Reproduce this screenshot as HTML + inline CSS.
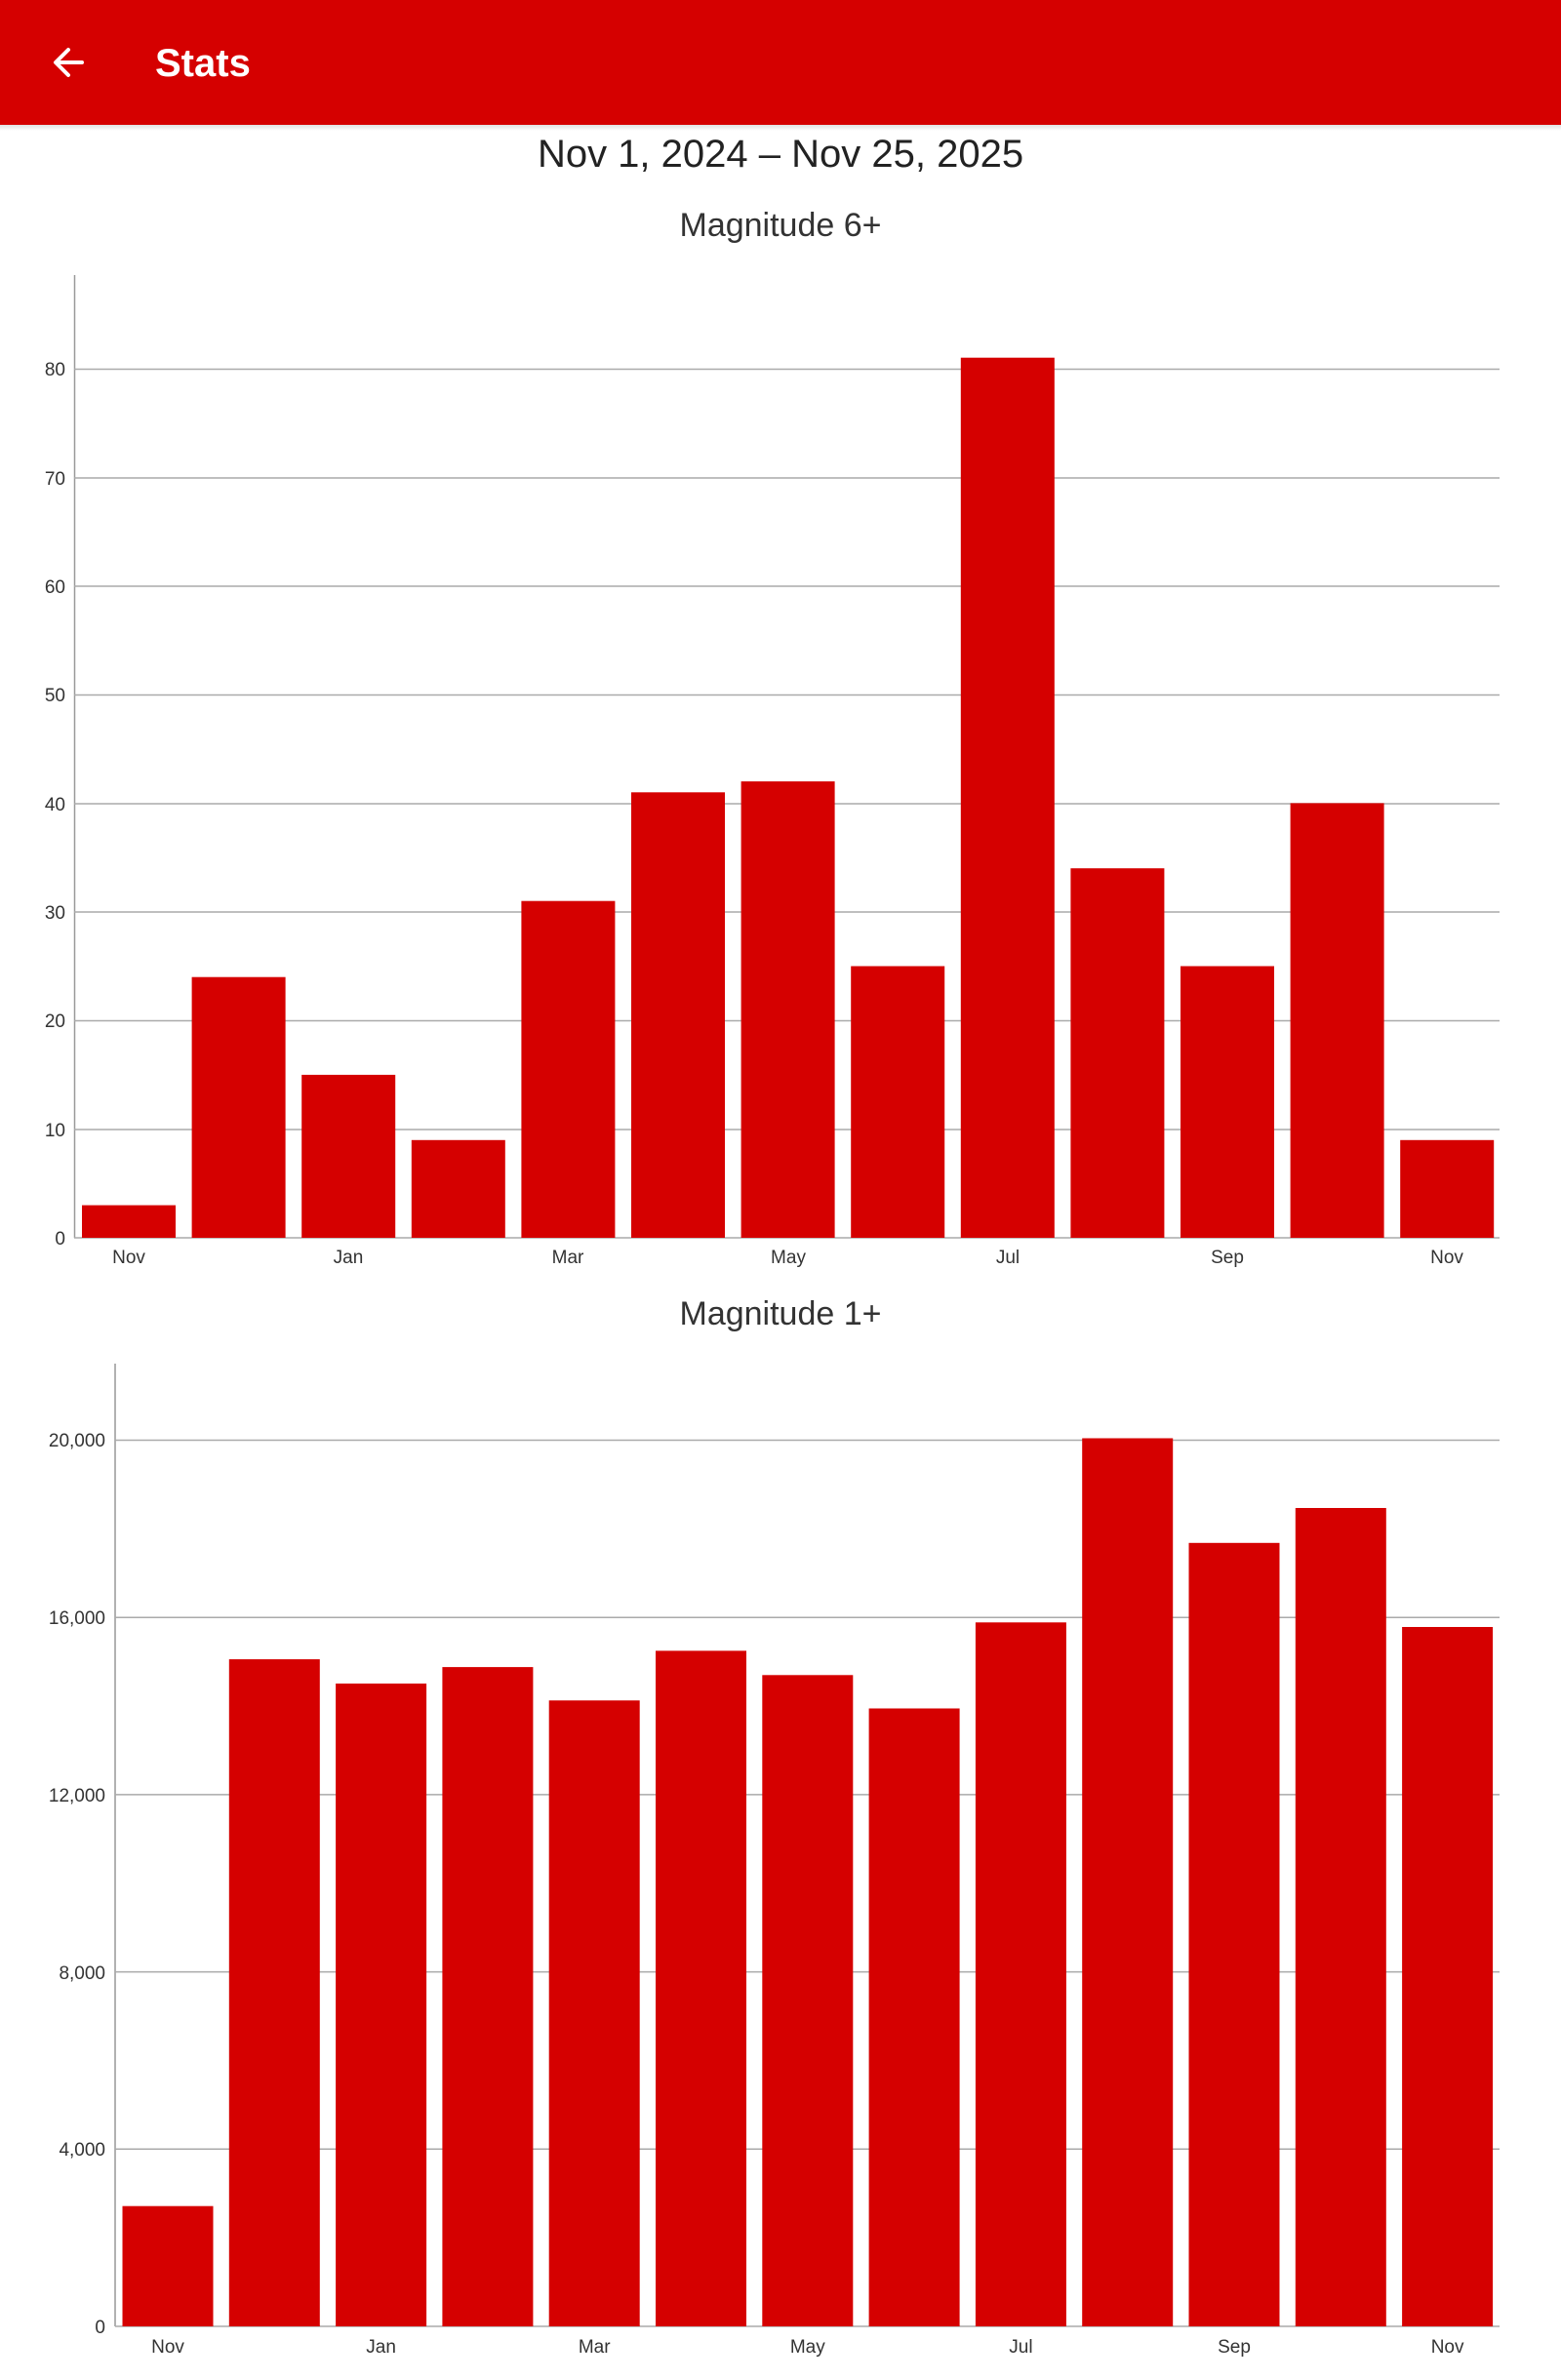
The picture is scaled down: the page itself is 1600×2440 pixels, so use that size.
<!DOCTYPE html>
<html><head><meta charset="utf-8"><style>
html,body{margin:0;padding:0;background:#fff;width:1600px;height:2440px;overflow:hidden}
svg{display:block}
text{font-family:"Liberation Sans","DejaVu Sans",sans-serif}
</style></head><body>
<svg width="1600" height="2440" xmlns="http://www.w3.org/2000/svg">
<defs><linearGradient id="sh" x1="0" y1="0" x2="0" y2="1"><stop offset="0" stop-color="#000" stop-opacity="0.12"/><stop offset="1" stop-color="#000" stop-opacity="0"/></linearGradient></defs>
<rect x="0" y="0" width="1600" height="128" fill="#d50000"/>
<rect x="0" y="128" width="1600" height="6" fill="url(#sh)"/>
<path d="M84 64 H58 M70 51 L57 64 L70 77" stroke="#fff" stroke-width="4" fill="none" stroke-linecap="round" stroke-linejoin="round"/>
<text x="159" y="78" font-size="40" fill="#fff" font-weight="bold">Stats</text>
<text x="800" y="171" font-size="40" fill="#222" text-anchor="middle">Nov 1, 2024 – Nov 25, 2025</text>
<text x="800" y="242" font-size="34" fill="#333" text-anchor="middle">Magnitude 6+</text>
<text x="800" y="1358" font-size="34" fill="#333" text-anchor="middle">Magnitude 1+</text>
<g id="c1" font-size="19" fill="#333">
<line x1="76.5" y1="282" x2="76.5" y2="1269" stroke="#999" stroke-width="1.5"/>
<g stroke="#aaa" stroke-width="1.5">
<line x1="76" y1="1269" x2="1537" y2="1269"/>
<line x1="76" y1="1158" x2="1537" y2="1158"/>
<line x1="76" y1="1046.5" x2="1537" y2="1046.5"/>
<line x1="76" y1="935" x2="1537" y2="935"/>
<line x1="76" y1="824" x2="1537" y2="824"/>
<line x1="76" y1="712.5" x2="1537" y2="712.5"/>
<line x1="76" y1="601" x2="1537" y2="601"/>
<line x1="76" y1="490" x2="1537" y2="490"/>
<line x1="76" y1="378.5" x2="1537" y2="378.5"/>
</g>
<g text-anchor="end">
<text x="67" y="1276">0</text><text x="67" y="1165">10</text><text x="67" y="1053">20</text><text x="67" y="942">30</text><text x="67" y="831">40</text><text x="67" y="719">50</text><text x="67" y="608">60</text><text x="67" y="497">70</text><text x="67" y="385">80</text>
</g>
<g fill="#d50000">
<rect x="84" y="1235.6" width="96" height="33.4"/>
<rect x="196.6" y="1001.7" width="96" height="267.3"/>
<rect x="309.2" y="1101.9" width="96" height="167.1"/>
<rect x="421.8" y="1168.8" width="96" height="100.2"/>
<rect x="534.4" y="923.7" width="96" height="345.3"/>
<rect x="647" y="812.3" width="96" height="456.7"/>
<rect x="759.6" y="801.1" width="96" height="467.9"/>
<rect x="872.2" y="990.5" width="96" height="278.5"/>
<rect x="984.8" y="366.7" width="96" height="902.3"/>
<rect x="1097.4" y="890.2" width="96" height="378.8"/>
<rect x="1210" y="990.5" width="96" height="278.5"/>
<rect x="1322.6" y="823.4" width="96" height="445.6"/>
<rect x="1435.2" y="1168.8" width="96" height="100.2"/>
</g>
<g text-anchor="middle">
<text x="132" y="1295">Nov</text><text x="357" y="1295">Jan</text><text x="582" y="1295">Mar</text><text x="808" y="1295">May</text><text x="1033" y="1295">Jul</text><text x="1258" y="1295">Sep</text><text x="1483" y="1295">Nov</text>
</g>
</g>
<g id="c2" font-size="19" fill="#333">
<line x1="118" y1="1398" x2="118" y2="2385" stroke="#999" stroke-width="1.5"/>
<g stroke="#aaa" stroke-width="1.5">
<line x1="118" y1="2385" x2="1537" y2="2385"/>
<line x1="118" y1="2203.3" x2="1537" y2="2203.3"/>
<line x1="118" y1="2021.6" x2="1537" y2="2021.6"/>
<line x1="118" y1="1839.9" x2="1537" y2="1839.9"/>
<line x1="118" y1="1658.2" x2="1537" y2="1658.2"/>
<line x1="118" y1="1476.5" x2="1537" y2="1476.5"/>
</g>
<g text-anchor="end">
<text x="108" y="2392">0</text><text x="108" y="2210">4,000</text><text x="108" y="2029">8,000</text><text x="108" y="1847">12,000</text><text x="108" y="1665">16,000</text><text x="108" y="1483">20,000</text>
</g>
<g fill="#d50000">
<rect x="125.5" y="2261.7" width="93" height="123.3"/>
<rect x="234.8" y="1701.1" width="93" height="683.9"/>
<rect x="344.1" y="1726" width="93" height="659"/>
<rect x="453.4" y="1709.1" width="93" height="675.9"/>
<rect x="562.7" y="1743.3" width="93" height="641.7"/>
<rect x="672" y="1692.4" width="93" height="692.6"/>
<rect x="781.3" y="1717.3" width="93" height="667.7"/>
<rect x="890.6" y="1751.5" width="93" height="633.5"/>
<rect x="999.9" y="1663.3" width="93" height="721.7"/>
<rect x="1109.2" y="1474.5" width="93" height="910.5"/>
<rect x="1218.5" y="1581.8" width="93" height="803.2"/>
<rect x="1327.8" y="1546" width="93" height="839"/>
<rect x="1437.1" y="1668" width="93" height="717"/>
</g>
<g text-anchor="middle">
<text x="172" y="2412">Nov</text><text x="390.6" y="2412">Jan</text><text x="609.2" y="2412">Mar</text><text x="827.8" y="2412">May</text><text x="1046.4" y="2412">Jul</text><text x="1265" y="2412">Sep</text><text x="1483.6" y="2412">Nov</text>
</g>
</g>
</svg>
</body></html>
